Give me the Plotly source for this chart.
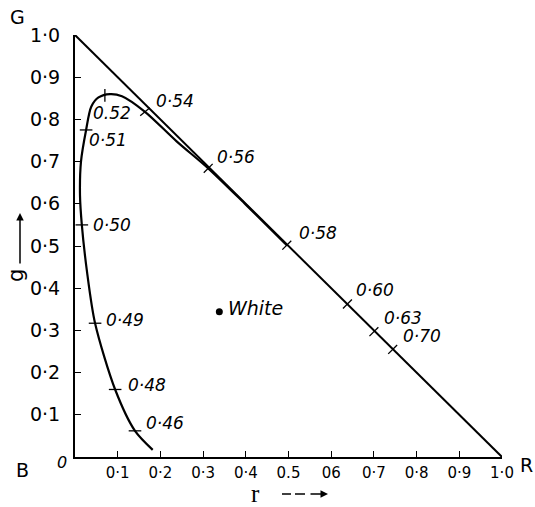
import plotly.graph_objects as go

# ---- data ----
# spectrum locus (r, g) chromaticity coordinates
locus_r = [0.182, 0.1405, 0.094, 0.047, 0.028, 0.016, 0.0117, 0.014, 0.026, 0.038,
           0.055, 0.082, 0.11, 0.164, 0.238, 0.312, 0.40, 0.496]
locus_g = [0.017, 0.062, 0.160, 0.317, 0.44, 0.55, 0.62, 0.70, 0.775, 0.83,
           0.852, 0.860, 0.855, 0.818, 0.748, 0.684, 0.598, 0.502]

# wavelength marks (micrometres) along the locus
mark_labels = ["0·46", "0·48", "0·49", "0·50", "0·51", "0.52",
               "0·54", "0·56", "0·58", "0·60", "0·63", "0·70"]
mark_r = [0.1405, 0.094, 0.047, 0.016, 0.026, 0.070, 0.164, 0.312, 0.496, 0.638, 0.700, 0.744]
mark_g = [0.062, 0.160, 0.317, 0.55, 0.775, 0.857, 0.818, 0.684, 0.502, 0.3625, 0.297, 0.255]

# triangle of primaries (G, B, R)
tri_r = [0.0, 1.0]
tri_g = [1.0, 0.0]

white_r = [0.338]
white_g = [0.344]

tick_vals = [0.1, 0.2, 0.3, 0.4, 0.5, 0.6, 0.7, 0.8, 0.9, 1.0]
x_tick_text = ["0·1", "0·2", "0·3", "0·4", "0.5", "06", "0·7", "0·8", "0·9", "1·0"]
y_tick_text = ["0·1", "0·2", "0·3", "0·4", "0·5", "0·6", "0·7", "0·8", "0·9", "1·0"]

# ---- styles ----
mark_angles = [0, 0, 0, 0, 0, 90, -40, -45, -45, -45, -45, -45]
label_xshift = [30, 32, 30, 30, 22, 7, 30, 28, 31, 28, 29, 29]
label_yshift = [8, 4, 3, 0, -10, -18, 11, 11, 12, 14, 14, 13]

FONT = "DejaVu Sans"
INK = "black"
# plot area: 427 x 422 px
PW, PH = 427, 422

fig = go.Figure()

fig.add_trace(go.Scatter(x=tri_r, y=tri_g, mode="lines",
                         line=dict(color=INK, width=2), hoverinfo="skip"))
fig.add_trace(go.Scatter(x=locus_r, y=locus_g, mode="lines",
                         line=dict(color=INK, width=2.2, shape="spline", smoothing=0.8),
                         hoverinfo="skip"))
fig.add_trace(go.Scatter(x=mark_r, y=mark_g, mode="markers", cliponaxis=False,
                         marker=dict(symbol="line-ew", size=9, angle=mark_angles,
                                     line=dict(color=INK, width=1.3)),
                         hoverinfo="skip"))
fig.add_trace(go.Scatter(x=white_r, y=white_g, mode="markers",
                         marker=dict(symbol="circle", size=7, color=INK),
                         hoverinfo="skip"))


def label(x, y, text, size, dx=0, dy=0, ref="paper", italic=False, family=FONT,
          angle=0):
    return dict(x=x, y=y, xref=ref, yref=ref, text=text, showarrow=False,
                xanchor="center", yanchor="middle", xshift=dx, yshift=dy,
                textangle=angle,
                font=dict(family=family, size=size,
                          style="italic" if italic else "normal", color=INK))


ann = []
for t, r, g, dx, dy in zip(mark_labels, mark_r, mark_g, label_xshift, label_yshift):
    ann.append(label(r, g, t, 17, dx, dy, ref="x", italic=True))
    ann[-1]["yref"] = "y"

w = dict(x=white_r[0], y=white_g[0], xref="x", yref="y", text="White",
         showarrow=False, xanchor="left", yanchor="middle", xshift=7, yshift=4,
         font=dict(family=FONT, size=19, style="italic", color=INK))
ann.append(w)

# vertex letters
ann.append(label(tri_r[0], tri_g[0], "G", 19, -58, 18))
ann.append(label(0, 0, "B", 19, -53, -13))
ann.append(label(tri_r[1], tri_g[1], "R", 19, 24, -8))
ann.append(label(0, 0, "0", 16, -13, -5, italic=True))

# axis names with arrows
ann.append(label(0, 0, "g", 21, -59, 181, angle=-90))
ann.append(dict(x=-55 / PW, y=244 / PH, xref="paper", yref="paper", text="",
                showarrow=True, axref="pixel", ayref="pixel", ax=0, ay=52,
                arrowhead=2, arrowsize=1, arrowwidth=1.5, arrowcolor=INK))
ann.append(label(0, 0, "r", 25, 180, -36, family="Liberation Serif"))
ann.append(dict(x=253 / PW, y=-37 / PH, xref="paper", yref="paper", text="",
                showarrow=True, axref="pixel", ayref="pixel", ax=-19, ay=0,
                arrowhead=2, arrowsize=1, arrowwidth=1.5, arrowcolor=INK))

shapes = []
for x0, x1 in [(207, 216), (220, 230)]:
    shapes.append(dict(type="line", xref="paper", yref="paper",
                       x0=x0 / PW, x1=x1 / PW,
                       y0=-37 / PH, y1=-37 / PH, line=dict(color=INK, width=1.5)))

axis_common = dict(range=[0, 1], showline=True, linewidth=2, linecolor=INK,
                   ticks="inside", ticklen=6, tickwidth=1.2, tickcolor=INK,
                   tickvals=tick_vals, showgrid=False, zeroline=False,
                   fixedrange=True)

fig.update_layout(
    width=535, height=507,
    margin=dict(l=75, r=33, t=35, b=50, autoexpand=False),
    paper_bgcolor="white", plot_bgcolor="white",
    showlegend=False,
    xaxis=dict(**axis_common, ticktext=x_tick_text, ticklabelstandoff=1,
               tickfont=dict(family=FONT, size=15, color=INK)),
    yaxis=dict(**axis_common, ticktext=y_tick_text, ticklabelstandoff=9,
               tickfont=dict(family=FONT, size=19, color=INK)),
    annotations=ann,
    shapes=shapes,
)

# remove the browser's default 8 px page margin so the figure fills the window
fig.write_html(
    "out.html",
    config={"displayModeBar": False},
    post_script="document.body.style.margin='0';document.body.style.overflow='hidden';",
)
